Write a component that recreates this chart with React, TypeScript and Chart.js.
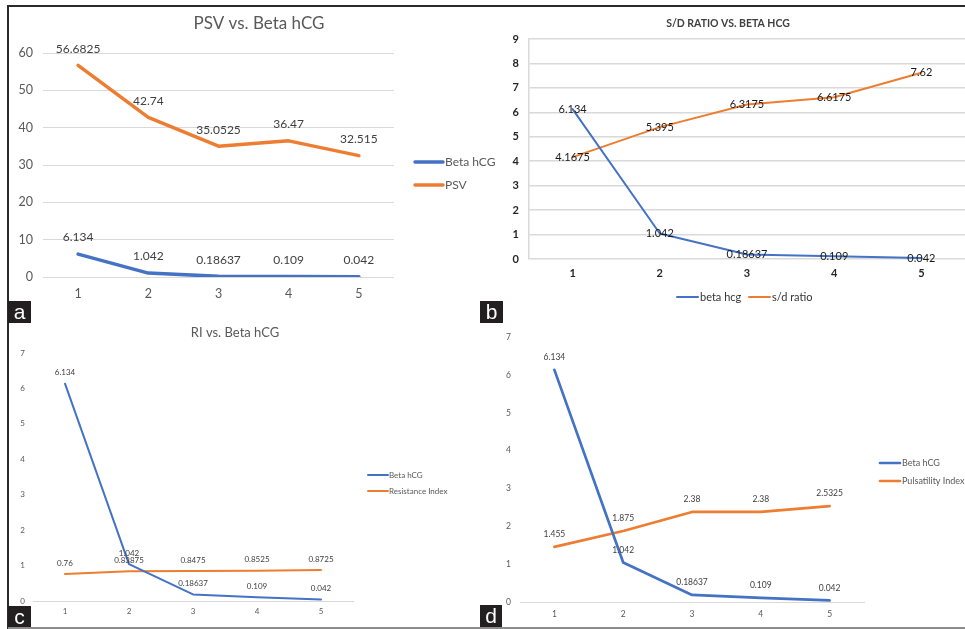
import React, { useEffect, useRef } from "react";
import { Chart, registerables } from "chart.js";

Chart.register(...registerables);

const categories = ["1", "2", "3", "4", "5"];
const betaHcg = [6.134, 1.042, 0.18637, 0.109, 0.042];
const psv = [56.6825, 42.74, 35.0525, 36.47, 32.515];
const sdRatio = [4.1675, 5.395, 6.3175, 6.6175, 7.62];
const resistanceIndex = [0.76, 0.83875, 0.8475, 0.8525, 0.8725];
const pulsatilityIndex = [1.455, 1.875, 2.38, 2.38, 2.5325];

const BLUE = "#4472C4";
const ORANGE = "#ED7D31";
const FONT = "Lato, 'Open Sans', sans-serif";

const valueLabelPlugin = {
  id: "valueLabels",
  afterDatasetsDraw(chart: any, _args: any, opts: any) {
    if (!opts || !opts.display) return;
    const ctx = chart.ctx;
    ctx.save();
    ctx.font = `${opts.weight || "normal"} ${opts.size}px ${FONT}`;
    ctx.fillStyle = opts.color;
    ctx.textAlign = "center";
    ctx.textBaseline = "middle";
    chart.data.datasets.forEach((ds: any, i: number) => {
      const meta = chart.getDatasetMeta(i);
      meta.data.forEach((pt: any, j: number) => {
        ctx.fillText(String(ds.data[j]), pt.x, pt.y - opts.offset);
      });
    });
    ctx.restore();
  },
};

const panelTitlePlugin = {
  id: "panelTitle",
  afterDraw(chart: any, _args: any, opts: any) {
    if (!opts || !opts.text) return;
    const ctx = chart.ctx;
    ctx.save();
    ctx.font = `${opts.weight || "normal"} ${opts.size}px ${FONT}`;
    ctx.fillStyle = opts.color;
    ctx.textAlign = "center";
    ctx.textBaseline = "middle";
    ctx.fillText(opts.text, opts.x, opts.y);
    ctx.restore();
  },
};

const panelLegendPlugin = {
  id: "panelLegend",
  afterDraw(chart: any, _args: any, opts: any) {
    if (!opts || !opts.entries) return;
    const ctx = chart.ctx;
    ctx.save();
    ctx.font = `normal ${opts.size}px ${FONT}`;
    ctx.textAlign = "left";
    ctx.textBaseline = "middle";
    chart.data.datasets.forEach((ds: any, i: number) => {
      const e = opts.entries[i];
      if (!e) return;
      ctx.strokeStyle = ds.borderColor;
      ctx.lineWidth = opts.lineWidth;
      ctx.lineCap = "round";
      ctx.beginPath();
      ctx.moveTo(e.x, e.y);
      ctx.lineTo(e.x + opts.lineLen, e.y);
      ctx.stroke();
      ctx.fillStyle = opts.color;
      ctx.fillText(ds.label, e.x + opts.lineLen + opts.gap, e.y);
    });
    ctx.restore();
  },
};

function makeConfig(spec: any): any {
  return {
    type: "line",
    data: {
      labels: categories,
      datasets: spec.series.map((s: any) => ({
        label: s.label,
        data: s.data,
        borderColor: s.color,
        backgroundColor: s.color,
        borderWidth: spec.lineWidth,
        pointRadius: 0,
        tension: 0,
        borderCapStyle: "round",
        borderJoinStyle: "round",
        fill: false,
      })),
    },
    options: {
      responsive: false,
      animation: false,
      devicePixelRatio: 1,
      layout: { padding: spec.padding },
      scales: {
        x: {
          type: "category",
          offset: true,
          grid: { display: false, drawTicks: false },
          border: {
            display: spec.xBorder,
            color: spec.borderColor,
            width: spec.borderWidth,
          },
          ticks: {
            padding: spec.xTickPad,
            color: spec.tickColor,
            font: { family: FONT, size: spec.tickFont, weight: spec.tickWeight || "normal" },
            maxRotation: 0,
          },
          afterFit: (scale: any) => {
            scale.height = spec.xHeight;
          },
        },
        y: {
          min: 0,
          max: spec.yMax,
          grid: {
            display: spec.grid,
            color: "#d9d9d9",
            lineWidth: spec.gridWidth,
            drawTicks: false,
          },
          border: {
            display: spec.yBorder,
            color: spec.borderColor,
            width: spec.borderWidth,
          },
          ticks: {
            stepSize: spec.yStep,
            padding: spec.yTickPad,
            color: spec.tickColor,
            font: { family: FONT, size: spec.tickFont, weight: spec.tickWeight || "normal" },
          },
          afterFit: (scale: any) => {
            scale.width = spec.yWidth;
          },
        },
      },
      plugins: {
        legend: { display: false },
        title: { display: false },
        tooltip: { enabled: false },
        valueLabels: { display: true, ...spec.labels },
        panelTitle: spec.title || {},
        panelLegend: spec.legend,
      },
    },
    plugins: [valueLabelPlugin, panelTitlePlugin, panelLegendPlugin],
  };
}

const specA = {
  left: 8, top: 6, width: 490, height: 300,
  padding: { left: 5, right: 104, top: 47, bottom: 4 },
  yWidth: 30, xHeight: 25, yMax: 60, yStep: 10,
  yTickPad: 10, xTickPad: 9, tickFont: 12.5, tickColor: "#595959",
  grid: true, gridWidth: 1, yBorder: false, xBorder: false,
  borderColor: "#d9d9d9", borderWidth: 1, lineWidth: 3.5,
  series: [
    { label: "Beta hCG", data: betaHcg, color: BLUE },
    { label: "PSV", data: psv, color: ORANGE },
  ],
  title: { text: "PSV vs. Beta hCG", x: 251, y: 18, size: 17, color: "#595959" },
  legend: {
    entries: [{ x: 407, y: 156 }, { x: 407, y: 179 }],
    lineLen: 28, gap: 2, size: 12, color: "#595959", lineWidth: 3.5,
  },
  labels: { offset: 16.5, size: 12, color: "#404040" },
};

const specB = {
  left: 495, top: 6, width: 470, height: 300,
  padding: { left: 10, right: 0, top: 33, bottom: 27 },
  yWidth: 24, xHeight: 20, yMax: 9, yStep: 1,
  yTickPad: 10, xTickPad: 8, tickFont: 11, tickColor: "#262626", tickWeight: "bold",
  grid: true, gridWidth: 1.5, yBorder: true, xBorder: false,
  borderColor: "#d9d9d9", borderWidth: 1.5, lineWidth: 2,
  series: [
    { label: "beta hcg", data: betaHcg, color: BLUE },
    { label: "s/d ratio", data: sdRatio, color: ORANGE },
  ],
  title: { text: "S/D RATIO VS. BETA HCG", x: 233, y: 18, size: 10.5, color: "#404040", weight: "bold" },
  legend: {
    entries: [{ x: 182, y: 291 }, { x: 254, y: 291 }],
    lineLen: 21, gap: 2, size: 11, color: "#333333", lineWidth: 2,
  },
  labels: { offset: 0, size: 11, color: "#1a1a1a" },
};

const specC = {
  left: 8, top: 323, width: 470, height: 304,
  padding: { left: 5, right: 125, top: 30, bottom: 10 },
  yWidth: 20, xHeight: 16, yMax: 7, yStep: 1,
  yTickPad: 8, xTickPad: 6, tickFont: 8, tickColor: "#595959",
  grid: false, gridWidth: 1, yBorder: false, xBorder: true,
  borderColor: "#d9d9d9", borderWidth: 1, lineWidth: 2,
  series: [
    { label: "Beta hCG", data: betaHcg, color: BLUE },
    { label: "Resistance Index", data: resistanceIndex, color: ORANGE },
  ],
  title: { text: "RI vs. Beta hCG", x: 227, y: 10, size: 13, color: "#595959" },
  legend: {
    entries: [{ x: 360, y: 152 }, { x: 360, y: 168 }],
    lineLen: 20, gap: 1, size: 8, color: "#595959", lineWidth: 2,
  },
  labels: { offset: 11, size: 8, color: "#404040" },
};

const specD = {
  left: 485, top: 323, width: 480, height: 304,
  padding: { left: 10, right: 101, top: 5, bottom: 9 },
  yWidth: 25, xHeight: 16, yMax: 7, yStep: 1,
  yTickPad: 9, xTickPad: 7, tickFont: 8.5, tickColor: "#595959",
  grid: false, gridWidth: 1, yBorder: false, xBorder: true,
  borderColor: "#d9d9d9", borderWidth: 1, lineWidth: 2.7,
  series: [
    { label: "Beta hCG", data: betaHcg, color: BLUE },
    { label: "Pulsatility Index", data: pulsatilityIndex, color: ORANGE },
  ],
  title: null,
  legend: {
    entries: [{ x: 395, y: 140 }, { x: 395, y: 158 }],
    lineLen: 20, gap: 2, size: 9, color: "#595959", lineWidth: 2.7,
  },
  labels: { offset: 12.5, size: 8.5, color: "#404040" },
};

function Panel({ spec }: { spec: any }) {
  const ref = useRef<HTMLCanvasElement | null>(null);
  useEffect(() => {
    if (!ref.current) return;
    const chart = new Chart(ref.current, makeConfig(spec));
    return () => chart.destroy();
  }, [spec]);
  return (
    <canvas
      ref={ref}
      width={spec.width}
      height={spec.height}
      style={{
        position: "absolute",
        left: spec.left,
        top: spec.top,
        width: spec.width,
        height: spec.height,
      }}
    />
  );
}

function Tag({ text, left, top, w, h }: { text: string; left: number; top: number; w: number; h: number }) {
  return (
    <div
      style={{
        position: "absolute",
        left,
        top,
        width: w,
        height: h,
        background: "#231f20",
        color: "#ffffff",
        fontFamily: "'Liberation Sans', Arial, sans-serif",
        fontSize: 21,
        lineHeight: `${h}px`,
        textAlign: "center",
        zIndex: 5,
      }}
    >
      {text}
    </div>
  );
}

export default function App() {
  return (
    <div
      style={{
        position: "absolute",
        left: 0,
        top: 0,
        width: 965,
        height: 629,
        background: "#ffffff",
        overflow: "hidden",
      }}
    >
      <Panel spec={specA} />
      <Panel spec={specB} />
      <Panel spec={specC} />
      <Panel spec={specD} />
      <div style={{ position: "absolute", left: 7, top: 5, width: 958, height: 2, background: "#2b2b2b", zIndex: 4 }} />
      <div style={{ position: "absolute", left: 7, top: 5, width: 2, height: 624, background: "#2b2b2b", zIndex: 4 }} />
      <div style={{ position: "absolute", left: 8, top: 627, width: 957, height: 2, background: "#8c8c8c", zIndex: 4 }} />
      <Tag text="a" left={8} top={301} w={23} h={22} />
      <Tag text="b" left={480} top={301} w={23} h={22} />
      <Tag text="c" left={8} top={606} w={23} h={21} />
      <Tag text="d" left={480} top={605} w={22} h={22} />
    </div>
  );
}
